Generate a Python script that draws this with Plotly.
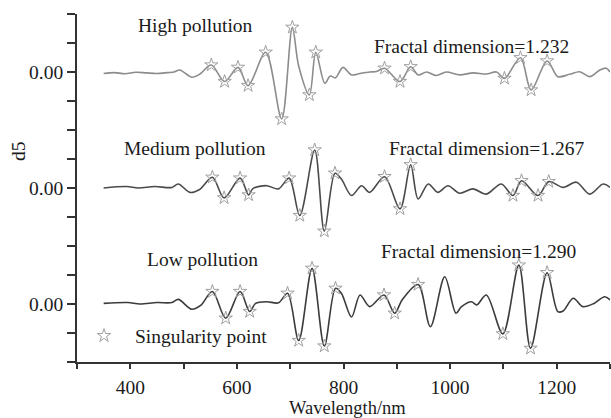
import plotly.graph_objects as go
import numpy as np

# ---------------- data (d5 detail coefficients, arbitrary units) ----------------
wl_high = [350, 370, 390, 410, 430, 450, 470, 482, 493, 515, 530, 552, 577, 602, 621, 654, 684, 704, 716,
           736, 748, 765, 775, 785, 799, 815, 831, 849, 862, 877, 906, 926, 940, 956, 974, 993, 1018,
           1043, 1068, 1087, 1102, 1132, 1152, 1182, 1202, 1224, 1243, 1262, 1281, 1293, 1300]
d5_high = [-0.05, -0.02, -0.06, -0.01, -0.03, -0.05, -0.02, 0.0, 0.07, -0.18, -0.08, 0.24, -0.33, 0.16,
           -0.47, 0.68, -1.62, 1.54, 0.2, -0.79, 0.68, -0.39, -0.14, -0.2, 0.16, -0.1, -0.05, 0.0, 0.02,
           0.13, -0.33, 0.18, -0.1, 0.0, -0.12, 0.0, -0.1, -0.03, -0.07, 0.0, -0.22, 0.49, -0.62, 0.38,
           -0.16, -0.08, 0.01, -0.16, 0.07, 0.13, 0.0]
star_high = [552, 577, 602, 621, 654, 684, 704, 736, 748, 877, 906, 926, 1102, 1132, 1152, 1182]

wl_med = [350, 393, 415, 446, 478, 490, 512, 530, 554, 576, 606, 622, 630, 656, 678, 698, 718, 746, 764,
          784, 796, 815, 834, 849, 877, 906, 926, 940, 959, 977, 996, 1018, 1043, 1068, 1096, 1118, 1134,
          1165, 1185, 1212, 1237, 1262, 1287, 1300]
d5_med = [0.0, 0.05, 0.0, 0.05, 0.02, 0.14, -0.15, -0.05, 0.37, -0.34, 0.34, -0.24, -0.02, 0.08, -0.03,
          0.34, -0.95, 1.31, -1.49, 0.51, 0.31, -0.26, 0.08, -0.15, 0.39, -0.72, 0.80, -0.38, 0.14, -0.15,
          0.08, -0.18, -0.03, -0.21, 0.14, -0.26, 0.25, -0.26, 0.22, 0.02, 0.2, -0.21, 0.14, 0.02]
star_med = [554, 576, 606, 622, 698, 718, 746, 764, 784, 877, 906, 926, 1118, 1134, 1165, 1185]

wl_low = [350, 395, 418, 450, 478, 490, 515, 532, 554, 579, 606, 624, 635, 656, 678, 695, 716, 741, 764,
          785, 796, 815, 831, 849, 876, 896, 910, 940, 963, 990, 1011, 1021, 1040, 1050, 1068, 1099, 1129,
          1151, 1182, 1202, 1212, 1231, 1249, 1270, 1290, 1300]
d5_low = [0.02, 0.05, 0.0, 0.05, 0.05, 0.16, -0.18, -0.05, 0.43, -0.49, 0.43, -0.26, 0.02, 0.08, 0.04,
          0.37, -1.26, 1.23, -1.45, 0.54, 0.37, -0.45, 0.31, -0.09, 0.31, -0.32, 0.14, 0.67, -0.78, 0.94,
          -0.32, -0.1, 0.08, -0.03, 0.31, -1.03, 1.34, -1.53, 1.08, -0.26, -0.24, 0.2, -0.09, 0.02, 0.25, 0.14]
star_low = [554, 579, 606, 624, 695, 716, 741, 764, 785, 876, 896, 940, 1099, 1129, 1151, 1182]

labels = ["High pollution", "Medium pollution", "Low pollution"]
fractal = ["Fractal dimension=1.232", "Fractal dimension=1.267", "Fractal dimension=1.290"]
x_tick_vals = [300, 400, 500, 600, 700, 800, 900, 1000, 1100, 1200, 1300]
x_tick_text = ["", "400", "", "600", "", "800", "", "1000", "", "1200", ""]

# ---------------- layout constants ----------------
OFFSETS = [10, 6, 2]
LINE_COLORS = ["#8c8c8c", "#4a4a4a", "#3c3c3c"]
FONT = "Liberation Serif, Times New Roman, serif"
FS = 19.5

fig = go.Figure()
series = [(wl_high, d5_high, star_high), (wl_med, d5_med, star_med), (wl_low, d5_low, star_low)]
for i, (wl, d5, stars) in enumerate(series):
    y = np.array(d5) + OFFSETS[i]
    fig.add_trace(go.Scatter(x=wl, y=y, mode="lines", showlegend=False, hoverinfo="skip",
                             line=dict(color=LINE_COLORS[i], width=1.6, shape="spline", smoothing=0.9)))
for i, (wl, d5, stars) in enumerate(series):
    lookup = dict(zip(wl, d5))
    sy = [lookup[s] + OFFSETS[i] for s in stars]
    fig.add_trace(go.Scatter(x=stars, y=sy, mode="markers", name="Singularity point",
                             showlegend=(i == 0),
                             marker=dict(symbol="star-open", size=10, color="#a0a0a0",
                                         line=dict(color="#a0a0a0", width=1))))

# Text annotations
lab_pos = [(195, 26), (195, 148), (202, 259)]
fra_pos = [(471, 46), (486, 148), (478, 251)]
W, H = 611, 418
L, R, T, B = 77, 1, 14, 56
pw, ph = W - L - R, H - T - B
def px2paper(px, py):
    return (px - L) / pw, (H - B - py) / ph
for i in range(3):
    x, y = px2paper(*lab_pos[i])
    fig.add_annotation(x=x, y=y, xref="paper", yref="paper", text=labels[i], showarrow=False,
                       font=dict(family=FONT, size=FS, color="#1a1a1a"), xanchor="center", yanchor="middle")
    x, y = px2paper(*fra_pos[i])
    fig.add_annotation(x=x, y=y, xref="paper", yref="paper", text=fractal[i], showarrow=False,
                       font=dict(family=FONT, size=FS, color="#1a1a1a"), xanchor="center", yanchor="middle")
x, y = px2paper(18, 151)
fig.add_annotation(x=x, y=y, xref="paper", yref="paper", text="d5", showarrow=False, textangle=-90,
                   font=dict(family=FONT, size=FS, color="#1a1a1a"), xanchor="center", yanchor="middle")
x, y = px2paper(347, 407.5)
fig.add_annotation(x=x, y=y, xref="paper", yref="paper", text="Wavelength/nm", showarrow=False,
                   font=dict(family=FONT, size=18.5, color="#1a1a1a"), xanchor="center", yanchor="middle")

lx, ly = px2paper(73, 336)
fig.update_layout(
    width=W, height=H,
    margin=dict(l=L, r=R, t=T, b=B),
    paper_bgcolor="white", plot_bgcolor="white",
    font=dict(family=FONT, size=FS, color="#1a1a1a"),
    legend=dict(x=lx, y=ly, xanchor="left", yanchor="middle", bgcolor="rgba(0,0,0,0)",
                itemwidth=52, font=dict(family=FONT, size=FS, color="#1a1a1a")),
    xaxis=dict(range=[300, 1300], tickmode="array", tickvals=x_tick_vals, ticktext=x_tick_text,
               ticks="outside", ticklen=5, tickwidth=1.5, tickcolor="#333", showline=True,
               linecolor="#333", linewidth=1.8, showgrid=False, zeroline=False,
               ticklabelstandoff=2, automargin=False),
    yaxis=dict(range=[0, 12], tickmode="array", tickvals=list(range(13)),
               ticktext=["0.00" if v in OFFSETS else "" for v in range(13)],
               ticks="outside", ticklen=8, tickwidth=1.5, tickcolor="#333", showline=True,
               linecolor="#333", linewidth=1.8, showgrid=False, zeroline=False, automargin=False),
)
fig.write_html("out.html", config={"displayModeBar": False},
               post_script="document.body.style.margin='0';document.body.style.overflow='hidden';")
